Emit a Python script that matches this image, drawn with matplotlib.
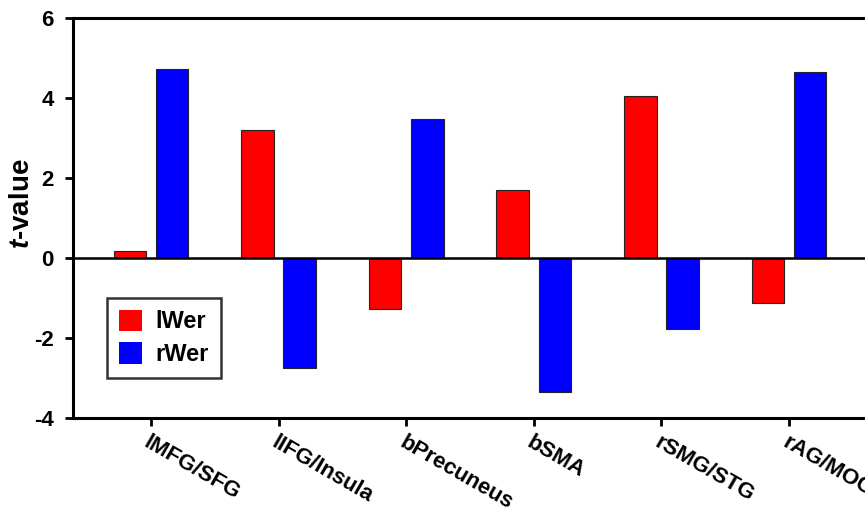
import matplotlib.pyplot as plt
import matplotlib.transforms as mtransforms
import numpy as np

regions = ["lMFG/SFG", "lIFG/Insula", "bPrecuneus", "bSMA", "rSMG/STG", "rAG/MOG"]
lwer = [0.17, 3.2, -1.27, 1.7, 4.05, -1.13]
rwer = [4.72, -2.75, 3.47, -3.35, -1.78, 4.66]
yticks = [-4, -2, 0, 2, 4, 6]

plt.rcParams["font.family"] = ["Liberation Sans", "DejaVu Sans"]
plt.rcParams["font.weight"] = "bold"
plt.rcParams["mathtext.fontset"] = "custom"
plt.rcParams["mathtext.it"] = "Liberation Sans:italic:bold"
plt.rcParams["mathtext.rm"] = "Liberation Sans:bold"

W, H = 865, 511
fig = plt.figure(figsize=(W / 100, H / 100), dpi=100)
ax = fig.add_axes([73 / W, 1 - 418 / H, (867 - 73) / W, (418 - 18) / H])

x = np.arange(len(regions))
width = 0.255
offset = 0.165
ax.bar(x - offset, lwer, width, color="#ff0000", edgecolor="#222222", linewidth=0.8, label="lWer", zorder=2)
ax.bar(x + offset, rwer, width, color="#0000ff", edgecolor="#222222", linewidth=0.8, label="rWer", zorder=2)

ax.axhline(0, color="black", linewidth=1.8, zorder=3)

ax.set_xlim(-0.61, 5.61)
ax.set_ylim(-4, 6)
ax.set_yticks(yticks)
ax.set_yticklabels([str(v) for v in yticks], fontsize=16, fontweight="bold")
ax.set_xticks(x)
ax.set_xticklabels(regions, fontsize=16, fontweight="bold", rotation=-30,
                   ha="left", va="top", rotation_mode="anchor")
shift = mtransforms.ScaledTranslation(-14 / 100, 0, fig.dpi_scale_trans)
for lbl in ax.get_xticklabels():
    lbl.set_transform(lbl.get_transform() + shift)

ax.tick_params(axis="both", direction="out", length=6, width=2, color="black")
ax.tick_params(axis="x", pad=4)
ax.tick_params(axis="y", pad=8)
for side in ["left", "bottom", "top"]:
    ax.spines[side].set_linewidth(2.2)
ax.spines["right"].set_visible(False)

ax.set_ylabel(r"$\mathit{t}$-value", fontsize=20, fontweight="bold")
ax.yaxis.set_label_coords((35 - 73) / 794, (418 - 204) / 400)

leg = ax.legend(loc="upper left", bbox_to_anchor=(107 / W, 1 - 298 / H),
                bbox_transform=fig.transFigure, borderaxespad=0,
                prop={"size": 17, "weight": "bold"}, frameon=True, fancybox=False,
                handlelength=1.0, handleheight=1.0, handletextpad=0.55,
                labelspacing=0.38, borderpad=0.5)
leg.get_frame().set_edgecolor("black")
leg.get_frame().set_linewidth(1.8)
for h in leg.legend_handles:
    h.set_edgecolor("none")

fig.savefig("out.png", dpi=100)
